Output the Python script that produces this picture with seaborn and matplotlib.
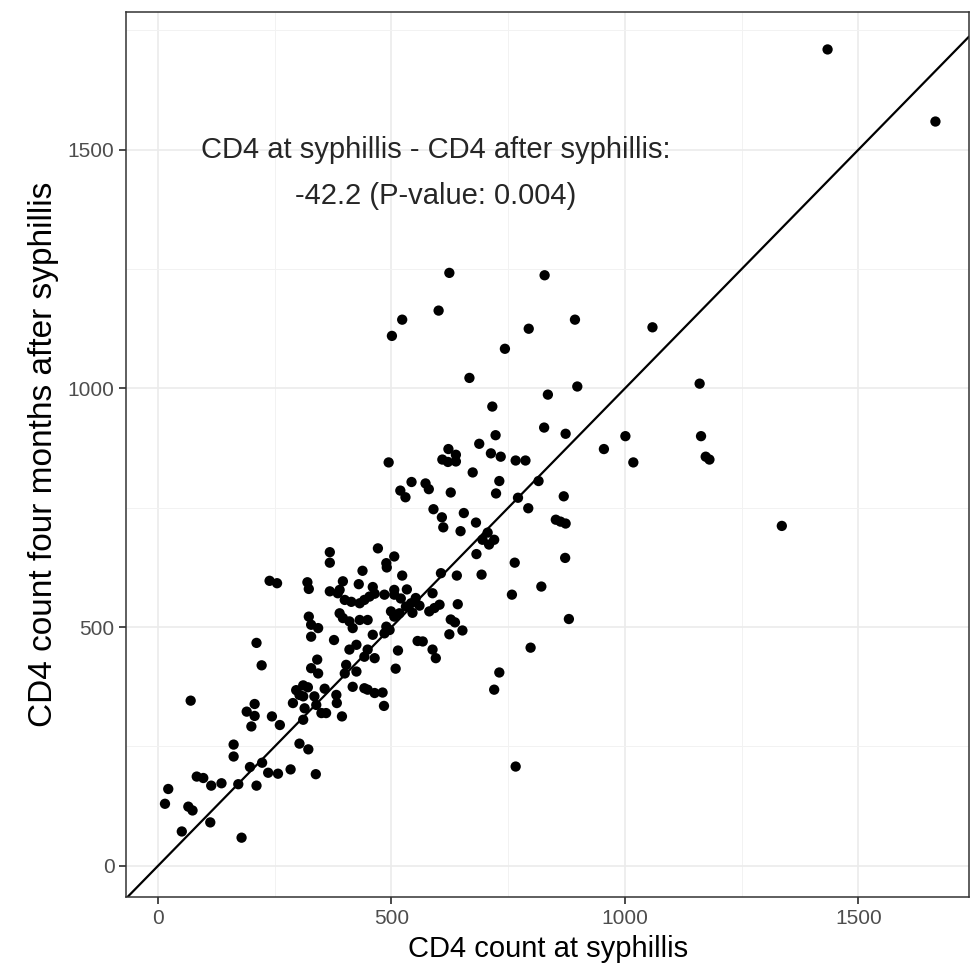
import pandas as pd
import seaborn as sns
import matplotlib.pyplot as plt

# CD4 count at syphilis (x) and four months after (y)
cd4_at = [
    15, 22, 51, 65, 74, 83, 97, 112, 114, 136, 172, 179, 162, 162, 197, 223, 211, 236, 257, 284,
    70, 207, 190, 207, 200, 244, 261, 211, 222, 239, 255,
    303, 322, 338, 311, 314, 350, 360, 394, 289, 296, 311, 321, 303, 311, 335, 339, 357, 382, 383,
    417, 442, 449, 464, 481, 484,
    341, 328, 343, 403, 400, 425, 377, 410, 425, 449, 442, 464, 514, 509, 460, 485, 496, 489,
    323, 328, 343, 328, 389, 396, 410, 417, 432, 449, 499, 506, 517, 531, 542, 552, 520, 545, 560,
    320, 323, 368, 385, 368, 368, 396, 389, 430, 460, 464, 400, 414, 432, 442, 453, 485, 506, 506,
    533, 471, 506, 489, 490, 438, 523, 606, 588, 603, 592, 581, 642, 627, 636, 556, 567, 588, 595,
    652, 624,
    494, 543, 519, 530, 573, 580, 627, 590, 608, 611, 655, 648, 681, 674, 688, 713, 734, 622, 638,
    609, 621, 638, 766, 787, 731, 724, 815, 771, 793, 869, 852, 862, 873, 706, 695, 709, 720, 682,
    872, 764, 640, 693, 821, 758, 880, 798, 731, 720, 766,
    624, 828, 523, 501, 601, 893, 794, 743, 667, 898, 835, 716, 827, 873, 723,
    1059, 1160, 1001, 955, 1018, 1163, 1173, 1181, 1336, 1434, 1665,
]
cd4_after = [
    130, 161, 72, 124, 116, 187, 184, 91, 168, 173, 171, 59, 254, 229, 207, 216, 168, 195, 193, 202,
    346, 339, 323, 314, 292, 313, 295, 467, 420, 597, 592,
    256, 244, 192, 306, 330, 320, 320, 313, 341, 368, 378, 374, 358, 355, 355, 337, 371, 358, 341,
    375, 372, 369, 362, 363, 335,
    432, 414, 403, 421, 403, 407, 473, 453, 463, 453, 438, 435, 451, 413, 484, 487, 494, 501,
    522, 505, 498, 480, 529, 519, 512, 498, 515, 515, 533, 522, 529, 543, 550, 561, 560, 530, 545,
    594, 580, 575, 571, 657, 635, 596, 578, 590, 584, 570, 557, 553, 550, 557, 564, 568, 568, 578,
    579, 665, 648, 634, 625, 618, 608, 613, 571, 547, 540, 533, 548, 516, 510, 471, 470, 453, 435,
    493, 485,
    845, 804, 786, 772, 801, 789, 782, 747, 730, 709, 739, 701, 719, 824, 884, 864, 857, 873, 861,
    851, 846, 847, 849, 849, 806, 780, 806, 771, 749, 774, 725, 721, 717, 698, 683, 673, 683, 653,
    645, 635, 608, 610, 585, 568, 517, 457, 405, 369, 208,
    1242, 1237, 1144, 1110, 1163, 1144, 1125, 1083, 1022, 1004, 987, 962, 918, 905, 902,
    1128, 1010, 900, 873, 845, 900, 857, 851, 712, 1710, 1559,
]

df = pd.DataFrame({'at': cd4_at, 'after': cd4_after})

sns.set_theme(style="white")
plt.rcParams['font.family'] = ['Liberation Sans', 'DejaVu Sans']

fig = plt.figure(figsize=(9.71, 9.77), dpi=100)
ax = fig.add_axes([0.13, 0.082, 0.868, 0.906])

# rejilla estilo theme_bw
ax.set_axisbelow(True)
ax.set_xticks([0, 500, 1000, 1500])
ax.set_yticks([0, 500, 1000, 1500])
ax.set_xticks([250, 750, 1250], minor=True)
ax.set_yticks([250, 750, 1250, 1750], minor=True)
ax.grid(which='major', color='#EBEBEB', lw=1.2)
ax.grid(which='minor', color='#F2F2F2', lw=0.7)

sns.scatterplot(data=df, x='at', y='after', color='black', s=55,
                edgecolor='none', ax=ax, zorder=3)
ax.axline((0, 0), slope=1, color='black', lw=1.6, zorder=2)

ax.set_xlim(-68, 1737)
ax.set_ylim(-65, 1789)

for sp in ax.spines.values():
    sp.set_color('#333333')
    sp.set_linewidth(1.1)
ax.tick_params(which='major', length=5, color='#333333', labelcolor='#4D4D4D',
               labelsize=15, left=True, bottom=True)
ax.tick_params(which='minor', length=0)

ax.set_xlabel('CD4 count at syphillis', fontsize=21, color='black', labelpad=5)
ax.set_ylabel('CD4 count four months after syphillis', fontsize=24, color='black', labelpad=6)

# anotación en dos líneas
ax.text(594, 1500, 'CD4 at syphillis - CD4 after syphillis:',
        ha='center', va='center', fontsize=21)
ax.text(594, 1404, '-42.2 (P-value: 0.004)',
        ha='center', va='center', fontsize=21)

fig.savefig('out.png', dpi=100)
